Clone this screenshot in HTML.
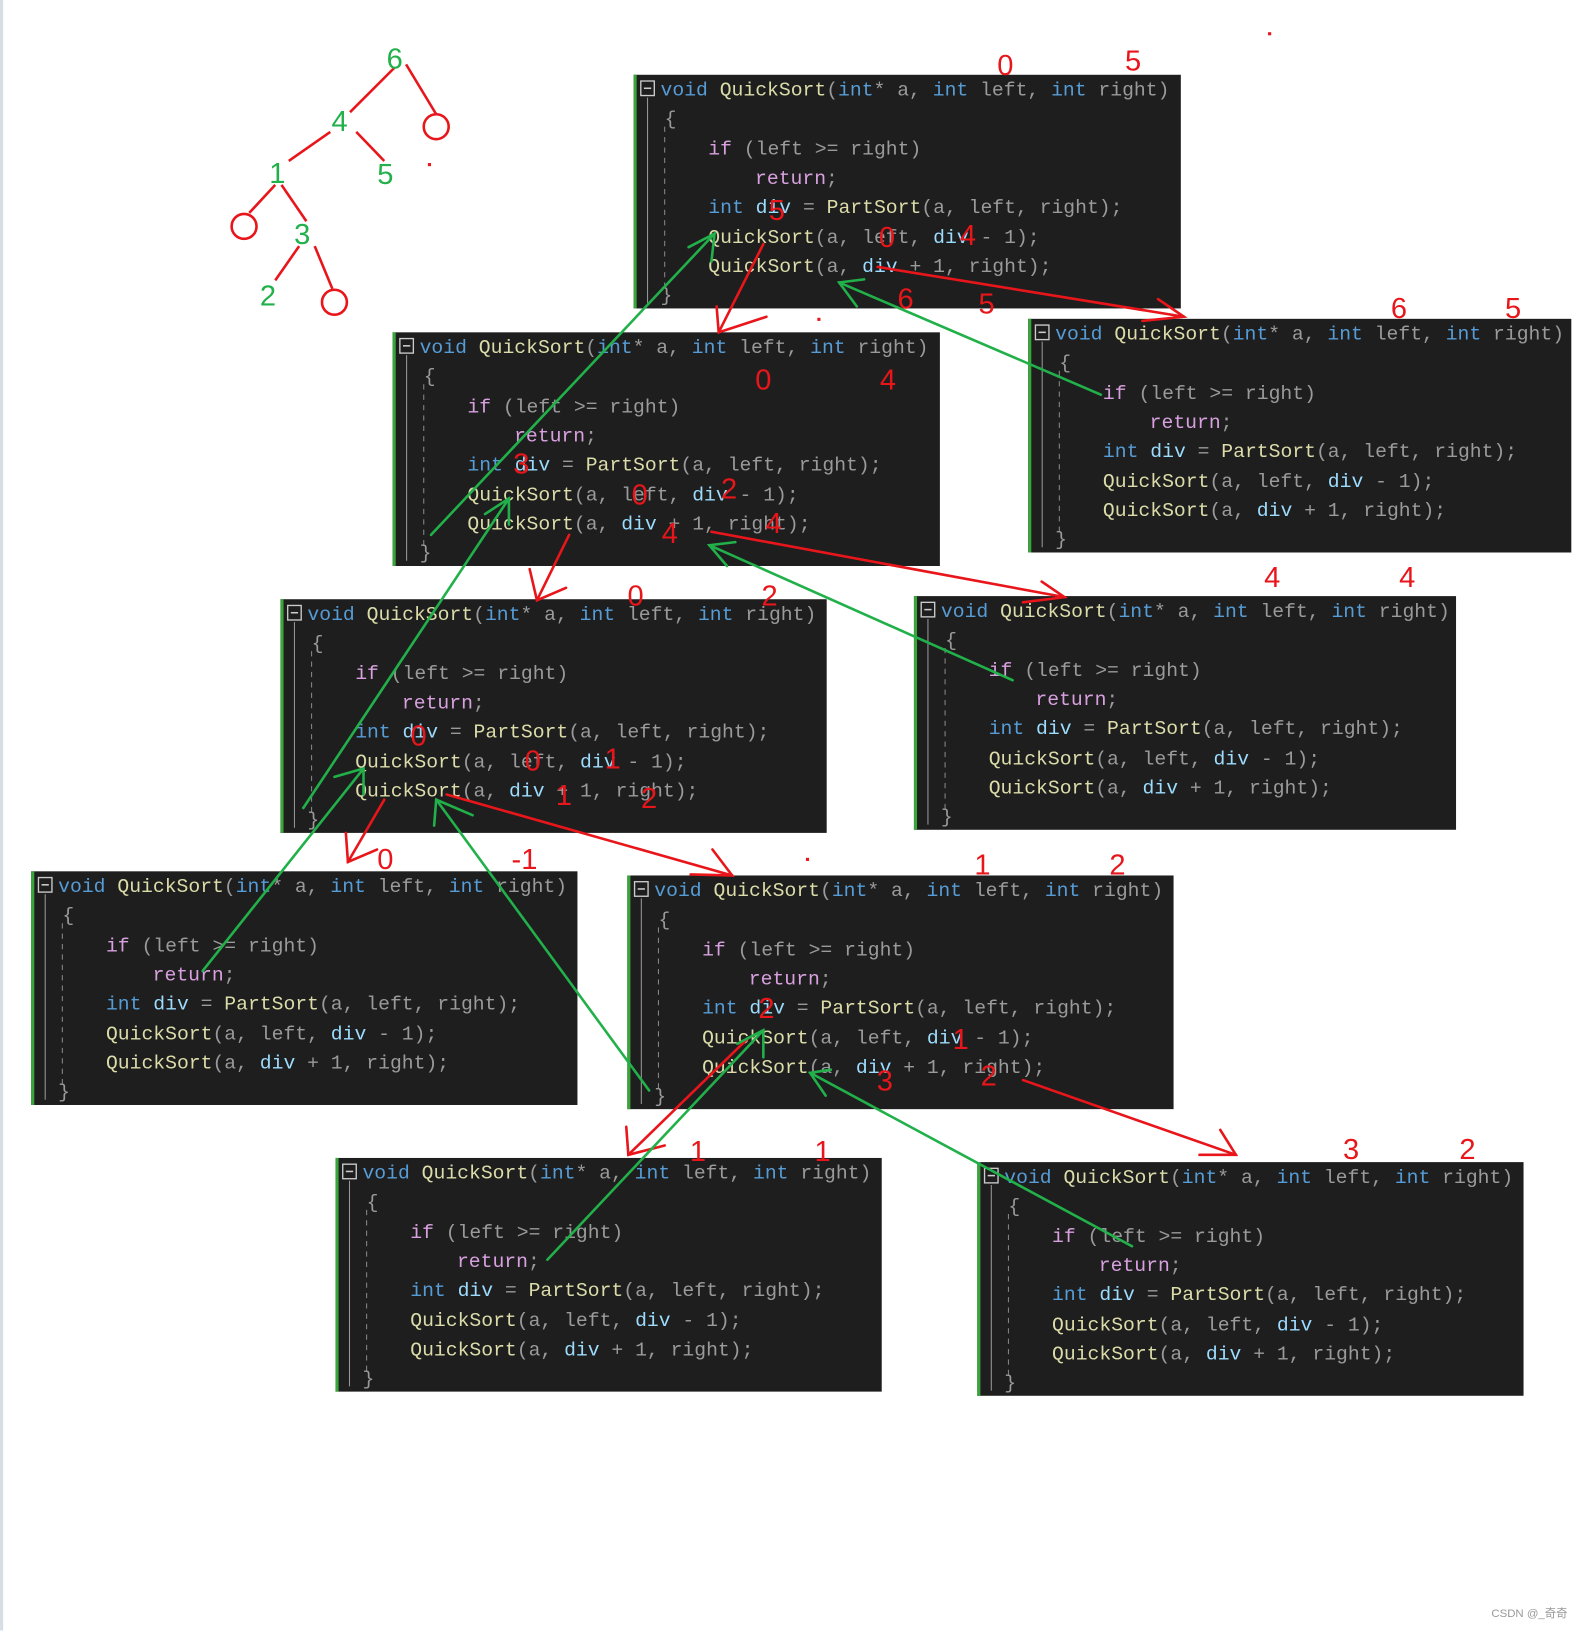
<!DOCTYPE html>
<html><head><meta charset="utf-8"><style>
html,body{margin:0;padding:0;background:#fff;}
svg{display:block;}
.c{font-family:"Liberation Mono",monospace;font-size:19px;fill:#9a9a9a;}
.k{fill:#569cd6}.f{fill:#dcdcaa}.p{fill:#d8a0df}.v{fill:#9cdcfe}.w{fill:#dadada}
.n{font-family:"Liberation Sans",sans-serif;font-size:28px;fill:#e8161b;}
.g{font-family:"Liberation Sans",sans-serif;font-size:28px;fill:#22b04a;}
</style></head><body>
<svg width="1589" height="1631" viewBox="0 0 1530 1570.5" xmlns="http://www.w3.org/2000/svg">
<rect x="0" y="0" width="3" height="1570" fill="#d6dde6"/>
<g id="boxes">
<g transform="translate(610,72)">
<rect width="527" height="225" fill="#1e1e1e"/><rect width="3" height="225" fill="#3aa53a"/>
<rect x="7" y="6" width="13" height="14" fill="none" stroke="#ccc" stroke-width="1.3"/><line x1="10" y1="13" x2="17" y2="13" stroke="#ccc" stroke-width="1.5"/>
<line x1="13.5" y1="22" x2="13.5" y2="220" stroke="#999"/><line x1="30" y1="50" x2="30" y2="205" stroke="#888" stroke-dasharray="5,5"/>
<text class="c" x="26" y="20"><tspan class="k">void</tspan> <tspan class="f">QuickSort</tspan>(<tspan class="k">int</tspan>* a, <tspan class="k">int</tspan> left, <tspan class="k">int</tspan> right)</text>
<text class="c" x="30" y="48">{</text>
<text class="c" x="72" y="77"><tspan class="p">if</tspan> (left &gt;= right)</text>
<text class="c" x="117" y="105" ><tspan class="p">return</tspan>;</text>
<text class="c" x="72" y="133"><tspan class="k">int</tspan> <tspan class="v">div</tspan> = <tspan class="f">PartSort</tspan>(a, left, right);</text>
<text class="c" x="72" y="162"><tspan class="f">QuickSort</tspan>(a, left, <tspan class="v">div</tspan> - 1);</text>
<text class="c" x="72" y="190"><tspan class="f">QuickSort</tspan>(a, <tspan class="v">div</tspan> + 1, right);</text>
<text class="c" x="26" y="218">}</text>
</g>
<g transform="translate(378,320)">
<rect width="527" height="225" fill="#1e1e1e"/><rect width="3" height="225" fill="#3aa53a"/>
<rect x="7" y="6" width="13" height="14" fill="none" stroke="#ccc" stroke-width="1.3"/><line x1="10" y1="13" x2="17" y2="13" stroke="#ccc" stroke-width="1.5"/>
<line x1="13.5" y1="22" x2="13.5" y2="220" stroke="#999"/><line x1="30" y1="50" x2="30" y2="205" stroke="#888" stroke-dasharray="5,5"/>
<text class="c" x="26" y="20"><tspan class="k">void</tspan> <tspan class="f">QuickSort</tspan>(<tspan class="k">int</tspan>* a, <tspan class="k">int</tspan> left, <tspan class="k">int</tspan> right)</text>
<text class="c" x="30" y="48">{</text>
<text class="c" x="72" y="77"><tspan class="p">if</tspan> (left &gt;= right)</text>
<text class="c" x="117" y="105"><tspan class="p">return</tspan>;</text>
<text class="c" x="72" y="133"><tspan class="k">int</tspan> <tspan class="v">div</tspan> = <tspan class="f">PartSort</tspan>(a, left, right);</text>
<text class="c" x="72" y="162"><tspan class="f">QuickSort</tspan>(a, left, <tspan class="v">div</tspan> - 1);</text>
<text class="c" x="72" y="190"><tspan class="f">QuickSort</tspan>(a, <tspan class="v">div</tspan> + 1, right);</text>
<text class="c" x="26" y="218">}</text>
</g>
<g transform="translate(990,307)">
<rect width="523" height="225" fill="#1e1e1e"/><rect width="3" height="225" fill="#3aa53a"/>
<rect x="7" y="6" width="13" height="14" fill="none" stroke="#ccc" stroke-width="1.3"/><line x1="10" y1="13" x2="17" y2="13" stroke="#ccc" stroke-width="1.5"/>
<line x1="13.5" y1="22" x2="13.5" y2="220" stroke="#999"/><line x1="30" y1="50" x2="30" y2="205" stroke="#888" stroke-dasharray="5,5"/>
<text class="c" x="26" y="20"><tspan class="k">void</tspan> <tspan class="f">QuickSort</tspan>(<tspan class="k">int</tspan>* a, <tspan class="k">int</tspan> left, <tspan class="k">int</tspan> right)</text>
<text class="c" x="30" y="48">{</text>
<text class="c" x="72" y="77"><tspan class="p">if</tspan> (left &gt;= right)</text>
<text class="c" x="117" y="105"><tspan class="p">return</tspan>;</text>
<text class="c" x="72" y="133"><tspan class="k">int</tspan> <tspan class="v">div</tspan> = <tspan class="f">PartSort</tspan>(a, left, right);</text>
<text class="c" x="72" y="162"><tspan class="f">QuickSort</tspan>(a, left, <tspan class="v">div</tspan> - 1);</text>
<text class="c" x="72" y="190"><tspan class="f">QuickSort</tspan>(a, <tspan class="v">div</tspan> + 1, right);</text>
<text class="c" x="26" y="218">}</text>
</g>
<g transform="translate(270,577)">
<rect width="526" height="225" fill="#1e1e1e"/><rect width="3" height="225" fill="#3aa53a"/>
<rect x="7" y="6" width="13" height="14" fill="none" stroke="#ccc" stroke-width="1.3"/><line x1="10" y1="13" x2="17" y2="13" stroke="#ccc" stroke-width="1.5"/>
<line x1="13.5" y1="22" x2="13.5" y2="220" stroke="#999"/><line x1="30" y1="50" x2="30" y2="205" stroke="#888" stroke-dasharray="5,5"/>
<text class="c" x="26" y="20"><tspan class="k">void</tspan> <tspan class="f">QuickSort</tspan>(<tspan class="k">int</tspan>* a, <tspan class="k">int</tspan> left, <tspan class="k">int</tspan> right)</text>
<text class="c" x="30" y="48">{</text>
<text class="c" x="72" y="77"><tspan class="p">if</tspan> (left &gt;= right)</text>
<text class="c" x="117" y="105"><tspan class="p">return</tspan>;</text>
<text class="c" x="72" y="133"><tspan class="k">int</tspan> <tspan class="v">div</tspan> = <tspan class="f">PartSort</tspan>(a, left, right);</text>
<text class="c" x="72" y="162"><tspan class="f">QuickSort</tspan>(a, left, <tspan class="v">div</tspan> - 1);</text>
<text class="c" x="72" y="190"><tspan class="f">QuickSort</tspan>(a, <tspan class="v">div</tspan> + 1, right);</text>
<text class="c" x="26" y="218">}</text>
</g>
<g transform="translate(880,574)">
<rect width="522" height="225" fill="#1e1e1e"/><rect width="3" height="225" fill="#3aa53a"/>
<rect x="7" y="6" width="13" height="14" fill="none" stroke="#ccc" stroke-width="1.3"/><line x1="10" y1="13" x2="17" y2="13" stroke="#ccc" stroke-width="1.5"/>
<line x1="13.5" y1="22" x2="13.5" y2="220" stroke="#999"/><line x1="30" y1="50" x2="30" y2="205" stroke="#888" stroke-dasharray="5,5"/>
<text class="c" x="26" y="20"><tspan class="k">void</tspan> <tspan class="f">QuickSort</tspan>(<tspan class="k">int</tspan>* a, <tspan class="k">int</tspan> left, <tspan class="k">int</tspan> right)</text>
<text class="c" x="30" y="48">{</text>
<text class="c" x="72" y="77"><tspan class="p">if</tspan> (left &gt;= right)</text>
<text class="c" x="117" y="105"><tspan class="p">return</tspan>;</text>
<text class="c" x="72" y="133"><tspan class="k">int</tspan> <tspan class="v">div</tspan> = <tspan class="f">PartSort</tspan>(a, left, right);</text>
<text class="c" x="72" y="162"><tspan class="f">QuickSort</tspan>(a, left, <tspan class="v">div</tspan> - 1);</text>
<text class="c" x="72" y="190"><tspan class="f">QuickSort</tspan>(a, <tspan class="v">div</tspan> + 1, right);</text>
<text class="c" x="26" y="218">}</text>
</g>
<g transform="translate(30,839)">
<rect width="526" height="225" fill="#1e1e1e"/><rect width="3" height="225" fill="#3aa53a"/>
<rect x="7" y="6" width="13" height="14" fill="none" stroke="#ccc" stroke-width="1.3"/><line x1="10" y1="13" x2="17" y2="13" stroke="#ccc" stroke-width="1.5"/>
<line x1="13.5" y1="22" x2="13.5" y2="220" stroke="#999"/><line x1="30" y1="50" x2="30" y2="205" stroke="#888" stroke-dasharray="5,5"/>
<text class="c" x="26" y="20"><tspan class="k">void</tspan> <tspan class="f">QuickSort</tspan>(<tspan class="k">int</tspan>* a, <tspan class="k">int</tspan> left, <tspan class="k">int</tspan> right)</text>
<text class="c" x="30" y="48">{</text>
<text class="c" x="72" y="77"><tspan class="p">if</tspan> (left &gt;= right)</text>
<text class="c" x="117" y="105"><tspan class="p">return</tspan>;</text>
<text class="c" x="72" y="133"><tspan class="k">int</tspan> <tspan class="v">div</tspan> = <tspan class="f">PartSort</tspan>(a, left, right);</text>
<text class="c" x="72" y="162"><tspan class="f">QuickSort</tspan>(a, left, <tspan class="v">div</tspan> - 1);</text>
<text class="c" x="72" y="190"><tspan class="f">QuickSort</tspan>(a, <tspan class="v">div</tspan> + 1, right);</text>
<text class="c" x="26" y="218">}</text>
</g>
<g transform="translate(604,843)">
<rect width="526" height="225" fill="#1e1e1e"/><rect width="3" height="225" fill="#3aa53a"/>
<rect x="7" y="6" width="13" height="14" fill="none" stroke="#ccc" stroke-width="1.3"/><line x1="10" y1="13" x2="17" y2="13" stroke="#ccc" stroke-width="1.5"/>
<line x1="13.5" y1="22" x2="13.5" y2="220" stroke="#999"/><line x1="30" y1="50" x2="30" y2="205" stroke="#888" stroke-dasharray="5,5"/>
<text class="c" x="26" y="20"><tspan class="k">void</tspan> <tspan class="f">QuickSort</tspan>(<tspan class="k">int</tspan>* a, <tspan class="k">int</tspan> left, <tspan class="k">int</tspan> right)</text>
<text class="c" x="30" y="48">{</text>
<text class="c" x="72" y="77"><tspan class="p">if</tspan> (left &gt;= right)</text>
<text class="c" x="117" y="105"><tspan class="p">return</tspan>;</text>
<text class="c" x="72" y="133"><tspan class="k">int</tspan> <tspan class="v">div</tspan> = <tspan class="f">PartSort</tspan>(a, left, right);</text>
<text class="c" x="72" y="162"><tspan class="f">QuickSort</tspan>(a, left, <tspan class="v">div</tspan> - 1);</text>
<text class="c" x="72" y="190"><tspan class="f">QuickSort</tspan>(a, <tspan class="v">div</tspan> + 1, right);</text>
<text class="c" x="26" y="218">}</text>
</g>
<g transform="translate(323,1115)">
<rect width="526" height="225" fill="#1e1e1e"/><rect width="3" height="225" fill="#3aa53a"/>
<rect x="7" y="6" width="13" height="14" fill="none" stroke="#ccc" stroke-width="1.3"/><line x1="10" y1="13" x2="17" y2="13" stroke="#ccc" stroke-width="1.5"/>
<line x1="13.5" y1="22" x2="13.5" y2="220" stroke="#999"/><line x1="30" y1="50" x2="30" y2="205" stroke="#888" stroke-dasharray="5,5"/>
<text class="c" x="26" y="20"><tspan class="k">void</tspan> <tspan class="f">QuickSort</tspan>(<tspan class="k">int</tspan>* a, <tspan class="k">int</tspan> left, <tspan class="k">int</tspan> right)</text>
<text class="c" x="30" y="48">{</text>
<text class="c" x="72" y="77"><tspan class="p">if</tspan> (left &gt;= right)</text>
<text class="c" x="117" y="105"><tspan class="p">return</tspan>;</text>
<text class="c" x="72" y="133"><tspan class="k">int</tspan> <tspan class="v">div</tspan> = <tspan class="f">PartSort</tspan>(a, left, right);</text>
<text class="c" x="72" y="162"><tspan class="f">QuickSort</tspan>(a, left, <tspan class="v">div</tspan> - 1);</text>
<text class="c" x="72" y="190"><tspan class="f">QuickSort</tspan>(a, <tspan class="v">div</tspan> + 1, right);</text>
<text class="c" x="26" y="218">}</text>
</g>
<g transform="translate(941,1119)">
<rect width="526" height="225" fill="#1e1e1e"/><rect width="3" height="225" fill="#3aa53a"/>
<rect x="7" y="6" width="13" height="14" fill="none" stroke="#ccc" stroke-width="1.3"/><line x1="10" y1="13" x2="17" y2="13" stroke="#ccc" stroke-width="1.5"/>
<line x1="13.5" y1="22" x2="13.5" y2="220" stroke="#999"/><line x1="30" y1="50" x2="30" y2="205" stroke="#888" stroke-dasharray="5,5"/>
<text class="c" x="26" y="20"><tspan class="k">void</tspan> <tspan class="f">QuickSort</tspan>(<tspan class="k">int</tspan>* a, <tspan class="k">int</tspan> left, <tspan class="k">int</tspan> right)</text>
<text class="c" x="30" y="48">{</text>
<text class="c" x="72" y="77"><tspan class="p">if</tspan> (left &gt;= right)</text>
<text class="c" x="117" y="105"><tspan class="p">return</tspan>;</text>
<text class="c" x="72" y="133"><tspan class="k">int</tspan> <tspan class="v">div</tspan> = <tspan class="f">PartSort</tspan>(a, left, right);</text>
<text class="c" x="72" y="162"><tspan class="f">QuickSort</tspan>(a, left, <tspan class="v">div</tspan> - 1);</text>
<text class="c" x="72" y="190"><tspan class="f">QuickSort</tspan>(a, <tspan class="v">div</tspan> + 1, right);</text>
<text class="c" x="26" y="218">}</text>
</g>
</g>

<!-- tree -->
<g stroke="#e8161b" stroke-width="2.5" fill="none">
<line x1="380" y1="65" x2="337" y2="108"/><line x1="391" y1="62" x2="420" y2="110"/><circle cx="420" cy="122" r="12"/>
<line x1="318" y1="127" x2="278" y2="155"/><line x1="343" y1="127" x2="370" y2="155"/>
<line x1="265" y1="178" x2="240" y2="205"/><circle cx="235" cy="218" r="12"/>
<line x1="271" y1="178" x2="295" y2="213"/>
<line x1="288" y1="237" x2="265" y2="270"/><line x1="303" y1="237" x2="320" y2="278"/><circle cx="322" cy="291" r="12"/>
</g>
<rect x="412" y="157" width="3" height="3" fill="#e8161b"/><rect x="1221" y="31" width="3" height="3" fill="#e8161b"/>
<rect x="787" y="306" width="3" height="3" fill="#e8161b"/><rect x="776" y="826" width="3" height="3" fill="#e8161b"/>
<g class="g" text-anchor="middle">
<text x="380" y="66">6</text><text x="327" y="126">4</text><text x="267" y="176">1</text><text x="371" y="177">5</text><text x="291" y="235">3</text><text x="258" y="294">2</text>
</g>

<!-- red numbers -->
<g class="n" text-anchor="middle">
<text x="968" y="72">0</text><text x="1091" y="68">5</text>
<text x="748" y="212">5</text><text x="854" y="238">0</text><text x="932" y="236">4</text><text x="872" y="297">6</text><text x="950" y="302">5</text>
<text x="1347" y="306">6</text><text x="1457" y="306">5</text>
<text x="735" y="375">0</text><text x="855" y="375">4</text>
<text x="502" y="456">3</text><text x="616" y="486">0</text><text x="702" y="480">2</text><text x="645" y="523">4</text><text x="745" y="513">4</text>
<text x="1225" y="565">4</text><text x="1355" y="565">4</text>
<text x="612" y="583">0</text><text x="741" y="583">2</text>
<text x="403" y="718">0</text><text x="513" y="742">0</text><text x="590" y="740">1</text><text x="543" y="775">1</text><text x="625" y="778">2</text>
<text x="371" y="837">0</text><text x="505" y="837">-1</text>
<text x="946" y="842">1</text><text x="1076" y="842">2</text>
<text x="738" y="980">2</text><text x="925" y="1010">1</text><text x="852" y="1050">3</text><text x="952" y="1045">2</text>
<text x="672" y="1118">1</text><text x="792" y="1118">1</text>
<text x="1301" y="1116">3</text><text x="1413" y="1116">2</text>
</g>

<!-- red call arrows -->
<g stroke="#e8161b" stroke-width="2.5" fill="none" stroke-linecap="round">
<line x1="735" y1="235" x2="692" y2="320"/><polyline points="690,295 692,320 738,305"/>
<line x1="845" y1="257" x2="1140" y2="305"/><polyline points="1115,288 1140,305 1100,309"/>
<line x1="548" y1="515" x2="517" y2="578"/><polyline points="510,548 517,578 545,566"/>
<line x1="685" y1="512" x2="1025" y2="575"/><polyline points="1003,560 1025,575 985,580"/>
<line x1="370" y1="770" x2="335" y2="830"/><polyline points="333,802 335,830 363,818"/>
<line x1="430" y1="765" x2="705" y2="843"/><polyline points="686,818 705,843 665,842"/>
<line x1="720" y1="1000" x2="605" y2="1112"/><polyline points="603,1085 605,1112 640,1103"/>
<line x1="985" y1="1040" x2="1190" y2="1112"/><polyline points="1175,1088 1190,1112 1155,1112"/>
</g>

<!-- green return arrows -->
<g stroke="#22b04a" stroke-width="2.5" fill="none" stroke-linecap="round">
<line x1="415" y1="515" x2="688" y2="225"/><polyline points="663,238 688,225 685,252"/>
<line x1="1060" y1="380" x2="808" y2="272"/><polyline points="832,269 808,272 825,295"/>
<line x1="292" y1="778" x2="490" y2="480"/><polyline points="467,495 490,480 490,505"/>
<line x1="975" y1="655" x2="683" y2="525"/><polyline points="708,522 683,525 700,545"/>
<line x1="195" y1="935" x2="350" y2="740"/><polyline points="322,748 350,740 350,765"/>
<line x1="625" y1="1050" x2="420" y2="770"/><polyline points="418,795 420,770 455,785"/>
<line x1="527" y1="1213" x2="735" y2="992"/><polyline points="710,1005 735,992 735,1018"/>
<line x1="1090" y1="1200" x2="780" y2="1033"/><polyline points="800,1030 780,1033 795,1055"/>
</g>

<text x="1436" y="1557" font-family="Liberation Sans, Noto Sans CJK SC, sans-serif" font-size="11" fill="#999">CSDN @_奇奇</text>
</svg>
</body></html>
